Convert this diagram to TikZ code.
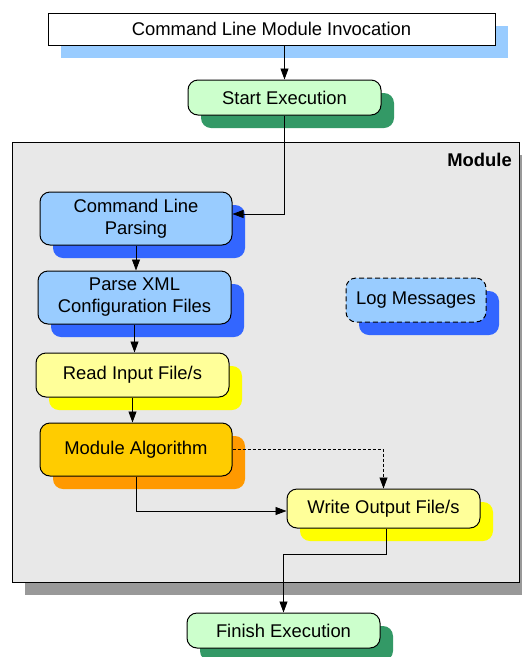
\documentclass[tikz,border=0pt]{standalone}
\usepackage{fontspec}
\setmainfont{Liberation Sans}
\usetikzlibrary{shadows,arrows.meta}
\definecolor{lblue}{HTML}{99CCFF}
\definecolor{dblue}{HTML}{3366FF}
\definecolor{lgreen}{HTML}{CCFFCC}
\definecolor{dgreen}{HTML}{339966}
\definecolor{lyellow}{HTML}{FFFF99}
\definecolor{dyellow}{HTML}{FFFF00}
\definecolor{lorange}{HTML}{FFCC00}
\definecolor{dorange}{HTML}{FF9900}
\definecolor{modfill}{HTML}{E8E8E8}
\definecolor{modshadow}{HTML}{999999}
\begin{document}
\begin{tikzpicture}[x=1pt,y=-1pt,
  every node/.style={font=\fontsize{18.4}{22}\selectfont},
  shadowed/.style={drop shadow={shadow xshift=13pt, shadow yshift=-13pt, fill=#1, opacity=1, draw=none}},
  rbox/.style={draw, line width=1pt, rounded corners=10pt, align=center, inner sep=0pt},
  sbox/.style={draw, line width=1pt, align=center, inner sep=0pt},
  arr/.style={line width=0.8pt, -{Triangle[length=11pt,width=8pt]}},
  darr/.style={line width=0.8pt, dash pattern=on 3pt off 2pt, -{Triangle[length=11pt,width=8pt]}}]
\useasboundingbox (0,0) rectangle (522,657);
\fill[white] (0,0) rectangle (522,657);

% module container
\node[sbox, fill=modfill, shadowed=modshadow, minimum width=507pt, minimum height=440pt] (module) at (265.5,362) {};
\node[anchor=base east, inner sep=0pt, font=\fontsize{18.4}{22}\selectfont\bfseries] (lbl) at (512,166) {Module};

% nodes
\node[sbox, fill=white, shadowed=lblue, minimum width=447pt, minimum height=32pt] (top) at (271.5,29) {Command Line Module Invocation};
\node[rbox, fill=lgreen, shadowed=dgreen, minimum width=193pt, minimum height=35pt] (start) at (284.5,97.5) {Start Execution};
\node[rbox, fill=lblue, shadowed=dblue, minimum width=192pt, minimum height=53pt] (clp) at (136,218.5) {Command Line\\Parsing};
\node[rbox, fill=lblue, shadowed=dblue, minimum width=193pt, minimum height=53pt] (xml) at (134.5,297.5) {Parse XML\\Configuration Files};
\node[rbox, fill=lyellow, shadowed=dyellow, minimum width=193pt, minimum height=44pt] (read) at (132.5,375) {Read Input File/s};
\node[rbox, fill=lorange, shadowed=dorange, minimum width=192pt, minimum height=53pt] (alg) at (136,449.5) {Module Algorithm};
\node[rbox, fill=lyellow, shadowed=dyellow, minimum width=193pt, minimum height=39pt] (write) at (383.5,508.5) {Write Output File/s};
\node[rbox, fill=lgreen, shadowed=dgreen, minimum width=193pt, minimum height=35pt] (finish) at (283.5,630.5) {Finish Execution};
\node[rbox, fill=lblue, shadowed=dblue, dash pattern=on 5pt off 3pt, minimum width=140pt, minimum height=44pt] (log) at (416,300) {Log Messages};

\coordinate (j) at (0,554);

% connectors
\draw[arr] (top.south -| start.north) -- (start.north);
\draw[arr] (start.south) |- ([yshift=4.5pt]clp.east);
\draw[arr] (clp.south) -- (clp.south |- xml.north);
\draw[arr] (xml.south) -- (xml.south |- read.north);
\draw[arr] (read.south) -- (read.south |- alg.north);
\draw[arr] (alg.south) |- ([yshift=-2.5pt]write.west);
\draw[darr] (alg.east) -| (write.north);
\draw[arr] ([xshift=2.5pt]write.south) |- (finish.north |- j) -- (finish.north);
\end{tikzpicture}
\end{document}
